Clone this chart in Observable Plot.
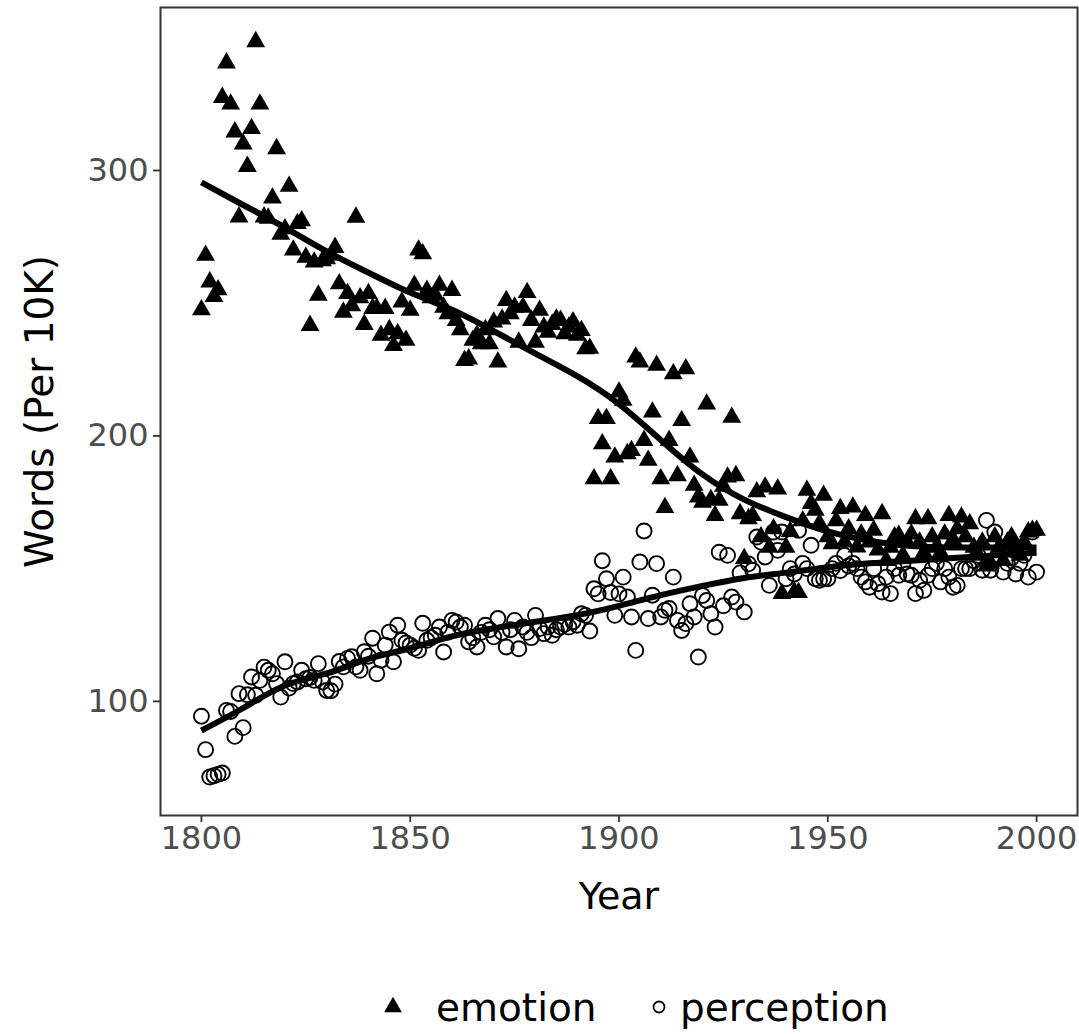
<!DOCTYPE html>
<html>
<head>
<meta charset="utf-8">
<script src="https://cdn.jsdelivr.net/npm/d3@7"></script>
<script src="https://cdn.jsdelivr.net/npm/@observablehq/plot@0.6"></script>
<style>
  html, body { margin: 0; padding: 0; background: #fff; }
  #chart { width: 1079px; }
  #legend { position: relative; width: 1079px; height: 84px; }
</style>
</head>
<body>
<div id="chart"></div>
<div id="legend"></div>
<script>
// ---- Data ----
const startYear = 1800;
const emotion = [
  247.5, 268, 258, 252.5, 255, 327.5, 340.5, 325, 314.5, 282.5,          // 1800-1809
  310, 301.5, 315.8, 348.5, 325, 282.5, 282, 289.6, 308.2, 276,          // 1810-1819
  278, 294, 270, 280, 281, 267.3, 241.6, 265.5, 253, 266,                // 1820-1829
  266.7, 268, 271, 257.3, 246.6, 253.6, 249, 282.4, 252, 242,            // 1830-1839
  253.6, 248, 248, 237.9, 248, 240, 234, 238.5, 250.4, 236,              // 1840-1849
  247.3, 256.7, 270, 268.6, 254.8, 252, 253, 256.7, 248.5, 246,          // 1850-1859
  254.8, 243.5, 240, 228.4, 229, 236, 238, 234.7, 240, 234.7,            // 1860-1869
  242.9, 227.8, 244, 251, 246, 248.5, 235.3, 248.5, 254, 243.5,          // 1870-1879
  235.3, 247.3, 241, 239, 242, 244, 243.5, 238.5, 241, 243,              // 1880-1889
  237.9, 239.7, 232.8, 233, 183.8, 206.5, 197, 206.5, 183.8, 192,        // 1890-1899
  216.5, 213.4, 193.3, 194.5, 229.7, 227.8, 198.3, 190.8, 209, 226.6,    // 1900-1909
  183.8, 173, 198.3, 223.4, 185, 205.8, 225.3, 192, 181.4, 177,          // 1910-1919
  175, 212, 176, 170, 175.7, 181, 184.5, 207, 185, 170.7,                // 1920-1929
  153.8, 168.8, 170, 178.9, 162, 180.7, 158, 165, 180, 140.6,            // 1930-1939
  158, 164, 141.2, 141, 168, 179.5, 174.5, 172, 167, 177.6,              // 1940-1949
  162, 159.4, 168, 172.6, 160, 165, 173.2, 158.1, 163, 170,              // 1950-1959
  160, 164.4, 157, 170.7, 153, 158, 162, 162.5, 155, 160,                // 1960-1969
  163, 168.8, 160, 156, 168.8, 162, 158, 156, 163, 170,                  // 1970-1979
  161, 165, 169.4, 162, 166.9, 158, 155, 160, 151, 152,                  // 1980-1989
  162, 158, 153, 160, 162, 158, 155, 160, 163.8, 164.4,                  // 1990-1999
  164.4                                                                  // 2000
];
const perception = [
  94.4, 81.8, 71.5, 72, 72.5, 73, 96.6, 96.2, 86.8, 102.9,               // 1800-1809
  90.1, 102.5, 109.2, 102.3, 107.9, 112.9, 111.7, 110.4, 106.7, 101.6,   // 1810-1819
  114.9, 105, 106.7, 107.3, 111.7, 108.5, 109, 107.9, 114.2, 107.3,      // 1820-1829
  104.1, 104, 106.5, 115, 113, 116.2, 116.8, 113, 111.7, 118.7,          // 1830-1839
  117, 123.8, 110.4, 115.5, 121.2, 126.1, 114.9, 128.7, 123, 122,        // 1840-1849
  121.2, 120, 119.2, 129.4, 123, 124, 124.9, 128, 118.6, 126,            // 1850-1859
  130.5, 129.9, 128, 128.7, 122.4, 124, 120.5, 126, 128.7, 127,          // 1860-1869
  124.3, 131.2, 126, 120.5, 127, 130.5, 119.8, 128, 126, 124,            // 1870-1879
  132.4, 127.4, 125.5, 128, 124.9, 127, 128, 129, 128, 130,              // 1880-1889
  128.7, 133, 132.4, 126.5, 142.4, 140.5, 153, 146.2, 141, 132.4,        // 1890-1899
  140.5, 146.8, 139.3, 131.8, 119.2, 152.5, 164.2, 131.2, 140, 151.9,    // 1900-1909
  131.8, 134.3, 135, 146.8, 130.5, 126.7, 129.3, 136.8, 131.8, 116.7,    // 1910-1919
  139.9, 138, 133, 128, 156.2, 136, 155, 139.3, 137.4, 148.4,            // 1920-1929
  133.7, 151.8, 149.4, 161.9, 160, 154.4, 143.7, 163.8, 156.9, 163.8,    // 1930-1939
  146.2, 150, 148, 164.4, 152, 150, 158.8, 146.2, 145.6, 146.2,          // 1940-1949
  146.2, 150, 152, 149.3, 155, 151, 152, 150, 146.8, 145,                // 1950-1959
  143, 150, 144.3, 141.2, 146.8, 140.6, 150, 147.5, 152, 148,            // 1960-1969
  147.5, 140.6, 145.6, 141.8, 147.5, 150, 152, 145, 150, 146.8,          // 1970-1979
  143, 143.7, 150, 150, 150, 153, 155, 149.4, 168.2, 149.4,              // 1980-1989
  163.8, 155, 148.7, 152, 154, 148, 152, 155, 146.8, 163.8,              // 1990-1999
  148.7                                                                  // 2000
];
// Smoothed (loess) trend lines, every 10 years
const smoothYears = [1800, 1810, 1820, 1830, 1840, 1850, 1860, 1870, 1880, 1890, 1900,
                     1910, 1920, 1930, 1940, 1950, 1960, 1970, 1980, 1990, 2000];
const emotionSmooth = [295.5, 287, 278.5, 269.5, 261.5, 254, 247.5, 239.5, 231, 222.5, 212,
                       198.5, 185.5, 176, 169.4, 164, 160.5, 158.5, 158, 158, 158];
const perceptionSmooth = [89, 97.5, 106, 110.5, 116, 120, 124.5, 127.5, 130, 132.5, 136,
                          140, 143.5, 146.5, 148.5, 150.5, 152, 153, 154, 155, 156];
const seriesNames = ["emotion", "perception"];
const xTicks = [1800, 1850, 1900, 1950, 2000];
const yTicks = [100, 200, 300];

// ---- Build tables ----
const emotionData = emotion.map((v, i) => ({year: startYear + i, value: v}));
const perceptionData = perception.map((v, i) => ({year: startYear + i, value: v}));
const emotionLine = smoothYears.map((y, i) => ({year: y, value: emotionSmooth[i]}));
const perceptionLine = smoothYears.map((y, i) => ({year: y, value: perceptionSmooth[i]}));

const FONT = "DejaVu Sans";
const chart = Plot.plot({
  width: 1079,
  height: 950,
  marginLeft: 160,
  marginRight: 2,
  marginTop: 7,
  marginBottom: 135,
  style: {fontFamily: FONT, fontSize: "32px", background: "#fff"},
  x: {domain: [1790.2, 2009.8]},
  y: {domain: [57, 361.4]},
  marks: [
    Plot.axisX({ticks: xTicks, tickSize: 7, tickPadding: 4, tickFormat: d => String(d),
                fontSize: 32, fill: "#4d4d4d", stroke: "#333", strokeWidth: 1.8, label: null}),
    Plot.axisY({ticks: yTicks, tickSize: 7, tickPadding: 5, tickFormat: d => String(d),
                fontSize: 32, fill: "#4d4d4d", stroke: "#333", strokeWidth: 1.8, label: null}),
    Plot.dot(perceptionData, {x: "year", y: "value", r: 7.5, stroke: "#000", strokeWidth: 1.9, fill: "none"}),
    Plot.dot(emotionData, {x: "year", y: "value", symbol: "triangle", r: 7, fill: "#000", stroke: "none"}),
    Plot.line(emotionLine, {x: "year", y: "value", curve: "natural", stroke: "#000", strokeWidth: 6, strokeLinecap: "butt"}),
    Plot.line(perceptionLine, {x: "year", y: "value", curve: "natural", stroke: "#000", strokeWidth: 6, strokeLinecap: "butt"}),
    Plot.frame({stroke: "#333", strokeWidth: 2}),
    Plot.text(["Year"], {frameAnchor: "bottom", dy: 93, fontSize: 38, fill: "#000"}),
    Plot.text(["Words (Per 10K)"], {frameAnchor: "left", dx: -120, rotate: -90, textAnchor: "middle",
                                    fontSize: 39, fill: "#000"})
  ]
});
document.getElementById("chart").appendChild(chart);

// ---- Legend (below the plot) ----
const legend = d3.select("#legend").append("svg")
  .attr("width", 1079).attr("height", 84)
  .style("font-family", FONT);
const cy = 57;
const items = [
  {name: seriesNames[0], sx: 393, tx: 436, sym: "triangle"},
  {name: seriesNames[1], sx: 659, tx: 680, sym: "circle"}
];
for (const it of items) {
  if (it.sym === "triangle") {
    legend.append("path")
      .attr("transform", `translate(${it.sx},${cy})`)
      .attr("d", d3.symbol(d3.symbolTriangle, 6.6 * 6.6 * Math.PI)())
      .attr("fill", "#000");
  } else {
    legend.append("circle")
      .attr("cx", it.sx).attr("cy", cy).attr("r", 5.5)
      .attr("fill", "none").attr("stroke", "#000").attr("stroke-width", 1.8);
  }
  legend.append("text")
    .attr("x", it.tx).attr("y", cy + 14)
    .attr("font-size", 39)
    .attr("fill", "#000")
    .text(it.name);
}
</script>
</body>
</html>
